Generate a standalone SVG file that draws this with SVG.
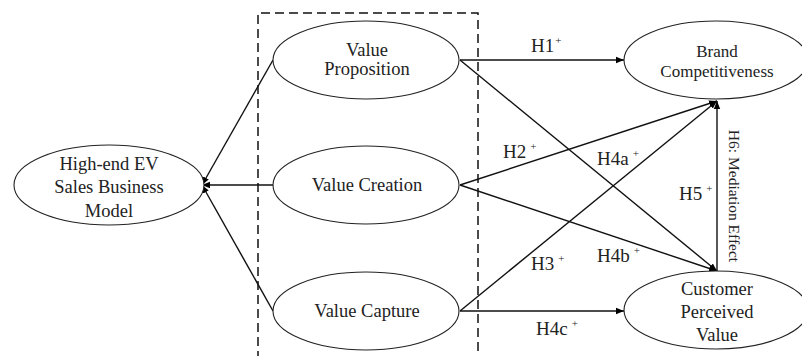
<svg xmlns="http://www.w3.org/2000/svg" width="802" height="356" viewBox="0 0 802 356">
<defs>
<marker id="ah" viewBox="0 0 10 10" refX="10" refY="5" markerWidth="8" markerHeight="8" markerUnits="userSpaceOnUse" orient="auto">
<path d="M0,1 L10,5 L0,9 Z" fill="#000"/>
</marker>
</defs>
<style>
.n{fill:#fff;stroke:#222;stroke-width:1.1}
.t{font-family:"Liberation Serif","Times New Roman",serif;font-size:18.5px;fill:#222;text-anchor:middle}
.bc{font-size:17px}
.l{font-family:"Liberation Serif","Times New Roman",serif;font-size:19px;fill:#222}
.s{font-size:11px}
.v{font-family:"Liberation Serif","Times New Roman",serif;font-size:15.5px;fill:#222;text-anchor:middle}
.c line{stroke:#111;stroke-width:1.4;fill:none}
.a{marker-end:url(#ah)}
</style>
<rect width="802" height="356" fill="#fff"/>
<g id="frame">
<path d="M258,360 V13 H478 V360" fill="none" stroke="#111" stroke-width="1.5" stroke-dasharray="9,5"/>
</g>
<g class="c" id="connectors">
<line class="a" x1="273" y1="60" x2="202" y2="185"/>
<line class="a" x1="273" y1="185" x2="202" y2="185"/>
<line class="a" x1="273" y1="311" x2="202" y2="185"/>
<line class="a" x1="460" y1="60" x2="624" y2="60"/>
<line class="a" x1="460" y1="60" x2="717" y2="271"/>
<line class="a" x1="460" y1="185" x2="717" y2="101"/>
<line class="a" x1="460" y1="185" x2="717" y2="271"/>
<line class="a" x1="460" y1="311" x2="717" y2="101"/>
<line class="a" x1="460" y1="311" x2="624" y2="311"/>
<line class="a" x1="717" y1="271" x2="717" y2="101"/>
</g>
<g id="labels">
<text class="l" x="531" y="52">H1<tspan class="s" dx="1" dy="-8">+</tspan></text>
<text class="l" x="503" y="158">H2<tspan class="s" dx="4" dy="-8">+</tspan></text>
<text class="l" x="597" y="165">H4a<tspan class="s" dx="4" dy="-8">+</tspan></text>
<text class="l" x="679" y="200">H5<tspan class="s" dx="4" dy="-8">+</tspan></text>
<text class="l" x="531" y="270">H3<tspan class="s" dx="4" dy="-8">+</tspan></text>
<text class="l" x="597" y="262">H4b<tspan class="s" dx="4" dy="-8">+</tspan></text>
<text class="l" x="536" y="335">H4c<tspan class="s" dx="4" dy="-8">+</tspan></text>
<text class="v" x="0" y="0" transform="translate(729,196) rotate(90)">H6: Mediation Effect</text>
</g>
<g id="hev">
<ellipse class="n" cx="109" cy="185" rx="95" ry="40"/>
<text class="t" x="109" y="170">High-end EV</text>
<text class="t" x="109" y="193">Sales Business</text>
<text class="t" x="109" y="217">Model</text>
</g>
<g id="vp">
<ellipse class="n" cx="366" cy="60" rx="93" ry="39"/>
<text class="t" x="367" y="56">Value</text>
<text class="t" x="367" y="75">Proposition</text>
</g>
<g id="vc">
<ellipse class="n" cx="366" cy="185" rx="93" ry="39"/>
<text class="t" x="367" y="191">Value Creation</text>
</g>
<g id="vcap">
<ellipse class="n" cx="366" cy="311" rx="93" ry="39"/>
<text class="t" x="367" y="317">Value Capture</text>
</g>
<g id="bc">
<ellipse class="n" cx="716" cy="60" rx="92" ry="39"/>
<text class="t bc" x="717" y="57">Brand</text>
<text class="t bc" x="717" y="77">Competitiveness</text>
</g>
<g id="cpv">
<ellipse class="n" cx="716" cy="310" rx="92" ry="39"/>
<text class="t" x="717" y="295">Customer</text>
<text class="t" x="717" y="318">Perceived</text>
<text class="t" x="717" y="341">Value</text>
</g>
</svg>
